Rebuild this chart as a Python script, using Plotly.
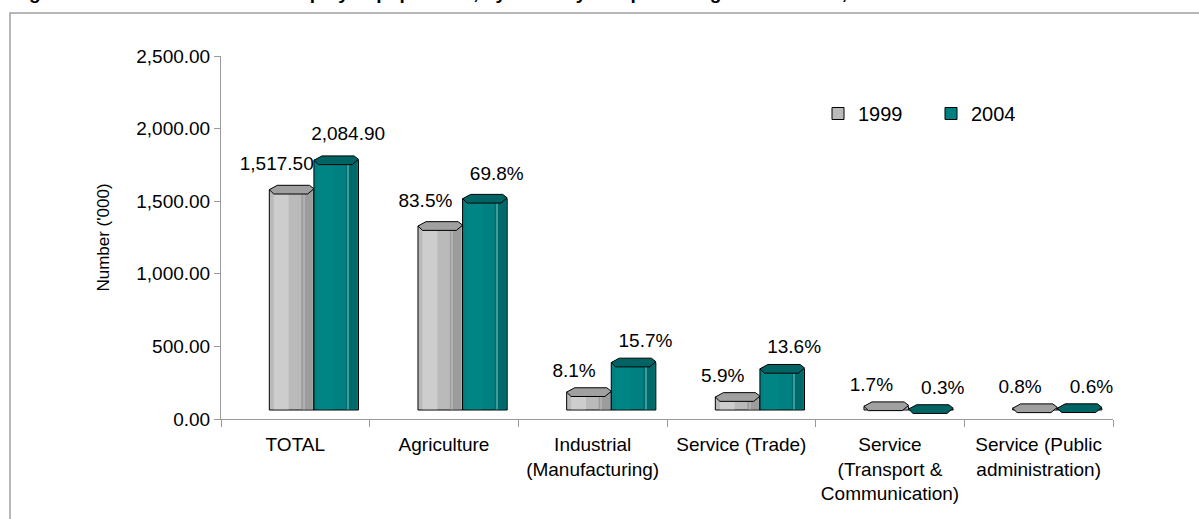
import plotly.graph_objects as go

# ---------------- data ----------------
categories = [
    "TOTAL",
    "Agriculture",
    "Industrial<br>(Manufacturing)",
    "Service (Trade)",
    "Service<br>(Transport &<br>Communication)",
    "Service (Public<br>administration)",
]
series_names = ["1999", "2004"]
values_1999 = [1517.5, 1267.0, 123.0, 89.5, 25.8, 12.1]
values_2004 = [1720.0, 1455.0, 327.0, 283.5, 6.3, 12.5]
labels_1999 = ["1,517.50", "83.5%", "8.1%", "5.9%", "1.7%", "0.8%"]
labels_2004 = ["2,084.90", "69.8%", "15.7%", "13.6%", "0.3%", "0.6%"]
y_tick_values = [0, 500, 1000, 1500, 2000, 2500]
title_text = ("Figure 5.2: Distribution of the employed population, by industry and "
              "percentage distribution, 1999 and 2004")
y_title = "Number ('000)"

# ---------------- style ----------------
FONT = "Arial, Liberation Sans, sans-serif"
W, H = 1199, 519
M_L, M_R, M_T, M_B = 221, 86, 56, 100
PLOT_W = W - M_L - M_R
PLOT_H = H - M_T - M_B
FLOOR = 62.0     # 3-D floor depth, value units
CAP_H = 60.0     # cap thickness, value units
LABEL_LIFT = 40.0
LABEL_GAP = 30.0
BAR_W = 0.30
SIDE_W = 0.085
INSET = 0.008
AXIS_GRAY = "#9a9a9a"
styles = {
    "1999": dict(front="#bababa", light="#cdcdcd", side="#9c9c9c", hl="#b0b0b0",
                 cap="#a0a0a0", offset=-0.175, label_shift=-0.1),
    "2004": dict(front="#008080", light="#008585", side="#006a6a", hl="#3f9c9c",
                 cap="#006464", offset=0.125, label_shift=0.08),
}
series = [("1999", values_1999, labels_1999), ("2004", values_2004, labels_2004)]
x_idx = list(range(len(categories)))

fig = go.Figure()

# main bars (front face)
for name, vals, _ in series:
    st = styles[name]
    fig.add_trace(go.Bar(
        x=x_idx, y=vals, base=FLOOR, width=BAR_W, offset=st["offset"], name=name,
        marker=dict(color=st["front"], line=dict(color="black", width=1)),
        hoverinfo="skip",
    ))

# lighter left band of the front face
for name, vals, _ in series:
    st = styles[name]
    fig.add_trace(go.Bar(
        x=x_idx, y=[v - 5 for v in vals], base=FLOOR + 5, width=0.10,
        offset=st["offset"] + 0.03,
        marker=dict(color=st["light"], line=dict(width=0)),
        showlegend=False, hoverinfo="skip",
    ))

# side faces
for name, vals, _ in series:
    st = styles[name]
    fig.add_trace(go.Bar(
        x=x_idx, y=[v - 5 for v in vals], base=FLOOR + 5, width=SIDE_W - INSET,
        offset=st["offset"] + BAR_W - SIDE_W,
        marker=dict(color=st["side"], line=dict(width=0)),
        showlegend=False, hoverinfo="skip",
    ))
    fig.add_trace(go.Bar(
        x=x_idx, y=[v - 5 for v in vals], base=FLOOR + 5, width=0.008,
        offset=st["offset"] + BAR_W - SIDE_W + 0.012,
        marker=dict(color=st["hl"], line=dict(width=0)),
        showlegend=False, hoverinfo="skip",
    ))

# caps (flattened hexagons on top of each bar)
for name, vals, _ in series:
    st = styles[name]
    xs, ys = [], []
    for i, v in zip(x_idx, vals):
        x0 = i + st["offset"]
        x1 = x0 + BAR_W
        w = BAR_W
        top = FLOOR + v
        lo, hi = top - CAP_H / 2, top + CAP_H / 2
        xs += [x0, x0 + 0.18 * w, x1 - 0.1 * w, x1, x1 - 0.14 * w, x0 + 0.1 * w, x0, None]
        ys += [top, hi, hi, top + 0.1 * CAP_H, lo, lo, top, None]
    fig.add_trace(go.Scatter(
        x=xs, y=ys, mode="lines", fill="toself", fillcolor=st["cap"],
        line=dict(color="black", width=1), showlegend=False, hoverinfo="skip",
    ))

# data labels
for name, vals, labs in series:
    st = styles[name]
    fig.add_trace(go.Scatter(
        x=[i + st["offset"] + BAR_W / 2 + st["label_shift"] for i in x_idx],
        y=[FLOOR + v + CAP_H / 2 + LABEL_LIFT + LABEL_GAP * (v / 1500.0) for v in vals],
        mode="text", text=labs, textposition="top center",
        textfont=dict(family=FONT, size=19, color="black"),
        showlegend=False, hoverinfo="skip", cliponaxis=False,
    ))

def px_x(p):
    return (p - M_L) / PLOT_W

def px_y(p):
    return (H - M_B - p) / PLOT_H

fig.update_layout(
    width=W, height=H,
    margin=dict(l=M_L, r=M_R, t=M_T, b=M_B),
    paper_bgcolor="white", plot_bgcolor="white",
    barmode="overlay",
    font=dict(family=FONT, size=19, color="black"),
    showlegend=True,
    legend=dict(
        orientation="h", x=px_x(818), y=px_y(94), xanchor="left", yanchor="top",
        font=dict(size=20), bgcolor="rgba(0,0,0,0)", entrywidth=68,
        traceorder="normal",
    ),
    xaxis=dict(
        type="linear", range=[-0.5, len(categories) - 0.5],
        tickmode="array", tickvals=x_idx, ticktext=categories,
        ticks="", showgrid=False, zeroline=False,
        showline=True, linecolor=AXIS_GRAY, linewidth=1,
        ticklabelstandoff=8,
        tickfont=dict(size=19),
        minor=dict(tickvals=[i - 0.5 for i in range(len(categories) + 1)],
                   ticks="outside", ticklen=7, tickcolor=AXIS_GRAY, showgrid=False),
    ),
    yaxis=dict(
        range=[0, 2500], tickmode="array", tickvals=y_tick_values, tickformat=",.2f",
        ticks="outside", ticklen=6, tickcolor=AXIS_GRAY,
        showline=True, linecolor=AXIS_GRAY, linewidth=1,
        showgrid=False, zeroline=False,
        tickfont=dict(size=19),
        title=dict(text=y_title, font=dict(size=17), standoff=22),
    ),
    shapes=[dict(
        type="rect", xref="paper", yref="paper",
        x0=px_x(10), x1=px_x(W + 20), y0=px_y(H + 20), y1=px_y(13),
        line=dict(color="#a0a0a0", width=1.5), fillcolor="rgba(0,0,0,0)", layer="below",
    )],
    annotations=[dict(
        text="<b>" + title_text + "</b>", xref="paper", yref="paper",
        x=px_x(10), y=px_y(5), xanchor="left", yanchor="bottom",
        showarrow=False, font=dict(size=19, color="black"),
    )],
)

fig.write_html(
    "out.html",
    config={"displayModeBar": False},
    post_script="document.body.style.margin='0px';document.body.style.overflow='hidden';",
)
